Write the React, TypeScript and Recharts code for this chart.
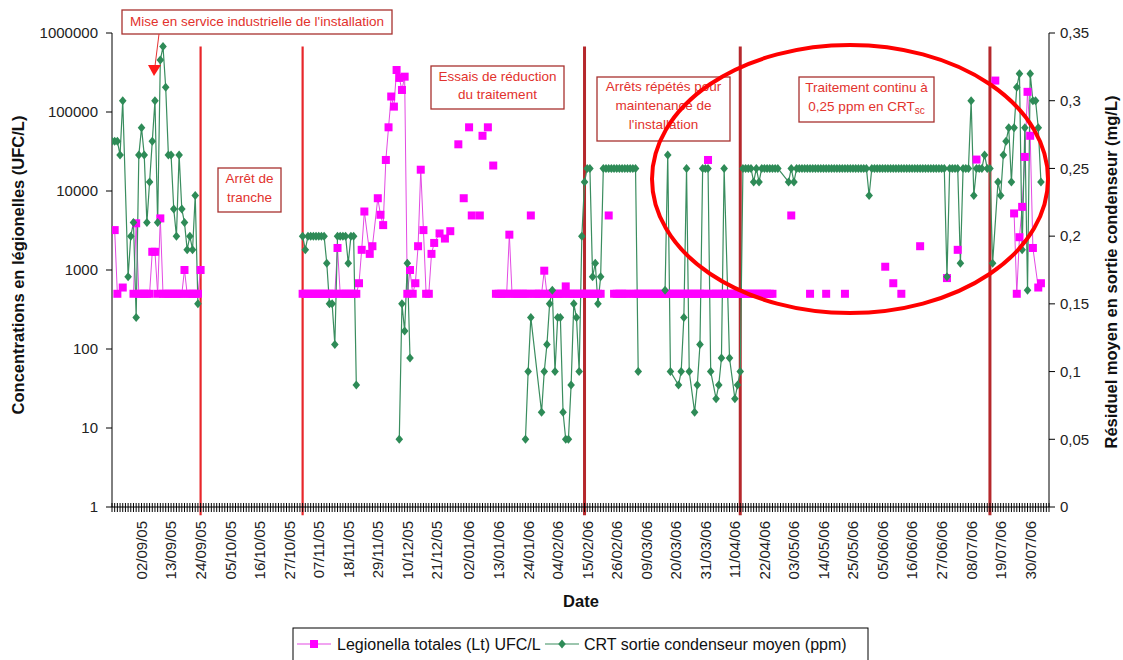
import React from "react";
import { LineChart, Line, XAxis, YAxis, ReferenceLine } from "recharts";

type Run = [string, (number | null)[]];

const FONT = "'Liberation Sans', Arial, Helvetica, sans-serif";

// x axis labels (one every 11 days)
const dateLabels = [
  "02/09/05", "13/09/05", "24/09/05", "05/10/05", "16/10/05", "27/10/05", "07/11/05",
  "18/11/05", "29/11/05", "10/12/05", "21/12/05", "02/01/06", "13/01/06", "24/01/06",
  "04/02/06", "15/02/06", "26/02/06", "09/03/06", "20/03/06", "31/03/06", "11/04/06",
  "22/04/06", "03/05/06", "14/05/06", "25/05/06", "05/06/06", "16/06/06", "27/06/06",
  "08/07/06", "19/07/06", "30/07/06",
];

const leftTicks = [1, 10, 100, 1000, 10000, 100000, 1000000];
const rightTicks = [0, 0.05, 0.1, 0.15, 0.2, 0.25, 0.3, 0.35];

// Legionella totales (Lt) UFC/L
// each run = first date, then one reading per day (null = no reading, line continues)
const legionellaAugSep: Run[] = [
  ["23/08/05", [3200, 500, null, 600]],
  ["30/08/05", [500, 3900, 500, 500, 500, 500, 500, 1700, 1700, 500, 4500,
    500, 500, 500, 500, 500, 500, 500, 500, 1000, 500, 500, 500, 500, 500, 1000]],
];

const legionellaNovDec: Run[] = [
  ["01/11/05", [500, 500, 500, 500, 500, 500, 500, 500, 500, 500, 500, 500, 500, 1900,
    500, 500, 500, 500, 500, 500, 500, 680, 1800, 5500, null, 1600, 2000, null, 8100,
    5000, 3700, 24700, 64000, 157000, 117000, 340000, 270000, 190000, 280000, 500,
    1000, 500, 680, 2000, 18600, 3200, 500, 500, 1600, 2200, null, 2900, null, 2500,
    null, 3100]],
  ["29/12/05", [39000]],
  ["31/12/05", [8100]],
  ["02/01/06", [64000]],
  ["03/01/06", [4900]],
  ["06/01/06", [4900]],
  ["07/01/06", [50000]],
  ["09/01/06", [64000]],
  ["11/01/06", [21000]],
];

const legionellaJanApr: Run[] = [
  ["12/01/06", [500, 500, 500, 500, 500, 2800, 500, 500, 500, 500, 500, 500, 500]],
  ["25/01/06", [4900]],
  ["26/01/06", [500, 500, 500, 500, 980, 500, 500, 500, 500, 500, 500, 500, 620,
    500, 500, 500, 500, 500, 500, 500, 500, 500, 500, 500, 500, 500]],
  ["23/02/06", [4900]],
  ["25/02/06", [500, 500, 500, 500, 500, 500]],
  ["04/03/06", [500, 500, 500, 500, 500, 500, 500, 500, 500, 500, 500, 500, 500, 500,
    500, 500, 500, 500, 500, 500, 500, 500, 500, 500, 500, 500, 500, 500]],
  ["01/04/06", [24700]],
  ["02/04/06", [500, 500, 500, 500, 500, 500, 500, 500, 500, 500, 500, 500, 500, 500,
    500, 500, 500, 500, 500, 500, 500, 500, 500, 500]],
];

const legionellaMayAug: Run[] = [
  ["02/05/06", [4900]],
  ["09/05/06", [500]],
  ["15/05/06", [500]],
  ["22/05/06", [500]],
  ["06/06/06", [1100]],
  ["09/06/06", [680]],
  ["12/06/06", [500]],
  ["19/06/06", [2000]],
  ["29/06/06", [790]],
  ["03/07/06", [1800]],
  ["10/07/06", [25000]],
  ["17/07/06", [250000]],
  ["24/07/06", [5200, 500, 2600, 6300, 27000, 180000, 50000, 1900, null, 600, 680]],
];

// CRT sortie condenseur moyen (ppm)
const crtAugSep: Run[] = [
  ["22/08/05", [0.27, 0.27, 0.27, 0.26, 0.3, null, 0.17, 0.2, 0.21, 0.14, 0.26, 0.28,
    0.26, 0.21, 0.24, 0.27, 0.3, 0.21, 0.33, 0.34, 0.31, 0.26, 0.26, 0.22, 0.2, 0.26,
    0.22, 0.21, 0.19, 0.2, 0.19, 0.23, 0.15]],
];

const crtNovDec: Run[] = [
  ["01/11/05", [0.2, 0.19, 0.2, 0.2, 0.2, 0.2, 0.2, 0.2, 0.2, 0.18, 0.15, 0.15, 0.12,
    0.2, 0.2, 0.2, 0.2, 0.18, 0.2, 0.2, 0.09]],
  ["07/12/05", [0.05, 0.15, 0.13, 0.18, 0.11]],
];

const crtJanFeb: Run[] = [
  ["23/01/06", [0.05, 0.1, 0.14, null, null, null, 0.07, 0.1, 0.12, 0.15, 0.16, 0.1,
    0.14, 0.14, 0.07, 0.05, 0.05, 0.09, 0.15, 0.14, 0.1, 0.2, 0.24, 0.25, 0.25, 0.17,
    0.18, 0.15, 0.17, 0.25, 0.25, 0.25, 0.25, 0.25, 0.25, 0.25, 0.25, 0.25, 0.25, 0.25,
    0.25, 0.25, 0.1]],
];

const crtMarAug: Run[] = [
  ["16/03/06", [0.16, 0.26, 0.1, null, null, 0.09, 0.1, 0.14, 0.25, 0.1, null, 0.07,
    0.09, 0.12, 0.25, 0.25, 0.25, 0.1, null, 0.08, 0.09, 0.11, 0.25, null, 0.11, null,
    0.08, 0.09, 0.1,
    0.25, 0.25, 0.25, 0.25, 0.24, 0.25, 0.24, 0.25, 0.25, 0.25,
    0.25, 0.25, 0.25, 0.25, null, null, null, 0.24, 0.25, 0.24,
    0.25, 0.25, 0.25, 0.25, 0.25, 0.25, 0.25, 0.25, 0.25, 0.25,
    0.25, 0.25, 0.25, 0.25, 0.25, 0.25, 0.25, 0.25, 0.25, 0.25,
    0.25, 0.25, 0.25, 0.25, 0.25, 0.25, 0.25, 0.23, 0.25, 0.25,
    0.25, 0.25, 0.25, 0.25, 0.25, 0.25, 0.25, 0.25, 0.25, 0.25,
    0.25, 0.25, 0.25, 0.25, 0.25, 0.25, 0.25, 0.25, 0.25, 0.25,
    0.25, 0.25, 0.25, 0.25, 0.25, 0.25, 0.17, 0.25, 0.25, 0.25,
    0.25, 0.18, 0.25, 0.25, 0.25, 0.3, 0.23, 0.25, 0.25, 0.25,
    0.26, 0.25, 0.25, 0.18, null, 0.24, 0.23, 0.26, 0.27, 0.28,
    0.24, 0.28, 0.31, 0.32, 0.19, 0.28, 0.16, 0.32, 0.3, 0.3,
    0.28, 0.24]],
];

// red vertical lines: changes of operating phase
const phaseDates = ["24/09/05", "01/11/05", "14/02/06", "13/04/06", "15/07/06"];

const ORIGIN = Date.UTC(2005, 8, 2);
function dayOf(s: string) {
  const [d, m, y] = s.split("/").map(Number);
  return Math.round((Date.UTC(2000 + y, m - 1, d) - ORIGIN) / 86400000);
}

function toPoints(runs: Run[], key: string) {
  const pts: Record<string, number | null>[] = [];
  runs.forEach(([start, values]) => {
    const d0 = dayOf(start);
    if (pts.length) pts.push({ day: d0, [key]: null });
    values.forEach((v, i) => {
      if (v !== null) pts.push({ day: d0 + i, [key]: v });
    });
  });
  return pts;
}

const legionellaData = toPoints(
  [...legionellaAugSep, ...legionellaNovDec, ...legionellaJanApr, ...legionellaMayAug],
  "lt"
);
const crtData = toPoints([...crtAugSep, ...crtNovDec, ...crtJanFeb, ...crtMarAug], "crt");

const X_MIN = -11;
const X_MAX = 338;
const dayTicks = Array.from({ length: X_MAX - X_MIN + 1 }, (_, i) => X_MIN + i);
const labelByDay = new Map(dateLabels.map((s) => [dayOf(s), s]));

const DateTick = (props: any) => {
  const { x, y, payload } = props;
  const label = labelByDay.get(payload.value);
  return (
    <g>
      <line x1={x} x2={x} y1={y - 4} y2={y + 5} stroke="#000" strokeWidth={1} />
      {label && (
        <text
          x={x}
          y={y + 14}
          transform={`rotate(-90 ${x} ${y + 14})`}
          textAnchor="end"
          dy="0.36em"
          fontSize={15}
          fill="#222"
          fontFamily={FONT}
        >
          {label}
        </text>
      )}
    </g>
  );
};

const SquareDot = (p: any) => {
  const { cx, cy, index } = p;
  if (cx == null || cy == null) return <g key={`s${index}`} />;
  return <rect key={`s${index}`} x={cx - 4} y={cy - 4} width={8} height={8} fill="#ff00ff" />;
};

const DiamondDot = (p: any) => {
  const { cx, cy, index } = p;
  if (cx == null || cy == null) return <g key={`d${index}`} />;
  return (
    <path
      key={`d${index}`}
      d={`M${cx} ${cy - 4.5}L${cx + 3.8} ${cy}L${cx} ${cy + 4.5}L${cx - 3.8} ${cy}Z`}
      fill="#2e8b57"
    />
  );
};

function NoteBox({ x, y, w, h, children }: { x: number; y: number; w: number; h: number; children: React.ReactNode }) {
  return (
    <g>
      <rect x={x} y={y} width={w} height={h} fill="#fff" stroke="#a8322f" strokeWidth={1.3} />
      <g fill="#e2322d" fontSize={13.5} textAnchor="middle" dominantBaseline="central">
        {children}
      </g>
    </g>
  );
}

export default function App() {
  return (
    <div style={{ position: "absolute", left: 0, top: 0, width: 1123, height: 660, background: "#fff", fontFamily: FONT }}>
      <LineChart width={1123} height={660} margin={{ top: 33, right: 0, bottom: 0, left: 0 }}>
        <XAxis
          type="number"
          dataKey="day"
          domain={[X_MIN, X_MAX]}
          allowDataOverflow
          ticks={dayTicks}
          interval={0}
          tick={DateTick}
          tickLine={false}
          tickSize={0}
          tickMargin={0}
          height={153}
          axisLine={{ stroke: "#000" }}
        />
        <YAxis
          yAxisId="left"
          scale="log"
          type="number"
          domain={[1, 1000000]}
          allowDataOverflow
          ticks={leftTicks}
          interval={0}
          width={112}
          tickSize={6}
          tickMargin={8}
          axisLine={{ stroke: "#000" }}
          tickLine={{ stroke: "#000" }}
          tick={{ fontSize: 15, fill: "#222", fontFamily: FONT }}
          tickFormatter={(v: number) => String(v)}
        />
        <YAxis
          yAxisId="right"
          orientation="right"
          type="number"
          domain={[0, 0.35]}
          ticks={rightTicks}
          interval={0}
          width={74}
          tickSize={6}
          tickMargin={5}
          axisLine={{ stroke: "#000" }}
          tickLine={{ stroke: "#000" }}
          tick={{ fontSize: 15, fill: "#222", fontFamily: FONT, textAnchor: "start" }}
          tickFormatter={(v: number) => String(v).replace(".", ",")}
        />
        {phaseDates.map((d, i) => (
          <ReferenceLine
            key={d}
            yAxisId="right"
            ifOverflow="visible"
            segment={[
              { x: dayOf(d), y: -0.006 },
              { x: dayOf(d), y: 0.34 },
            ]}
            stroke={i < 2 ? "#e8262a" : "#b5282c"}
            strokeWidth={i < 2 ? 2.2 : 3}
          />
        ))}
        <Line
          yAxisId="left"
          data={legionellaData}
          dataKey="lt"
          type="linear"
          stroke="#e34ae3"
          strokeWidth={1}
          dot={SquareDot}
          activeDot={false}
          connectNulls={false}
          isAnimationActive={false}
        />
        <Line
          yAxisId="right"
          data={crtData}
          dataKey="crt"
          type="linear"
          stroke="#3a8d5f"
          strokeWidth={1.2}
          dot={DiamondDot}
          activeDot={false}
          connectNulls={false}
          isAnimationActive={false}
        />
      </LineChart>

      <svg
        width={1123}
        height={660}
        style={{ position: "absolute", left: 0, top: 0, pointerEvents: "none" }}
        fontFamily={FONT}
      >
        {/* axis titles */}
        <text transform="translate(24 265) rotate(-90)" textAnchor="middle" fontWeight="bold" fontSize={16.5} fill="#111">
          Concentrations en légionelles (UFC/L)
        </text>
        <text transform="translate(1117 272) rotate(-90)" textAnchor="middle" fontWeight="bold" fontSize={16.5} fill="#111">
          Résiduel moyen en sortie condenseur (mg/L)
        </text>
        <text x={581} y={607} textAnchor="middle" fontWeight="bold" fontSize={16.5} fill="#111">
          Date
        </text>

        {/* annotations */}
        <NoteBox x={122} y={10} w={270} h={24}>
          <text x={257} y={21}>Mise en service industrielle de l'installation</text>
        </NoteBox>
        <line x1={159} y1={34} x2={155} y2={66} stroke="#e53030" strokeWidth={1} />
        <polygon points="148,65 161,65 154,76" fill="#ff1a1a" />

        <NoteBox x={218} y={168} w={63} h={44}>
          <text x={249.5} y={178}>Arrêt de</text>
          <text x={249.5} y={197}>tranche</text>
        </NoteBox>
        <NoteBox x={431} y={66} w={133} h={43}>
          <text x={497.5} y={76}>Essais de réduction</text>
          <text x={497.5} y={94}>du traitement</text>
        </NoteBox>
        <NoteBox x={597} y={77} w={133} h={64}>
          <text x={663.5} y={86}>Arrêts répétés pour</text>
          <text x={663.5} y={105}>maintenance de</text>
          <text x={663.5} y={124}>l'installation</text>
        </NoteBox>
        <NoteBox x={799} y={77} w={135} h={45}>
          <text x={866.5} y={87}>Traitement continu à</text>
          <text x={866.5} y={106}>
            0,25 ppm en CRT
            <tspan dy={4} fontSize={10}>sc</tspan>
          </text>
        </NoteBox>

        <ellipse cx={850} cy={179} rx={198} ry={134} fill="none" stroke="#ff0000" strokeWidth={4} />

        {/* legend */}
        <rect x={293} y={628} width={575} height={40} fill="#fff" stroke="#000" strokeWidth={1} />
        <line x1={297} x2={331} y1={644} y2={644} stroke="#e34ae3" strokeWidth={1.2} />
        <rect x={310} y={640} width={8} height={8} fill="#ff00ff" />
        <text x={337} y={650} fontSize={16} fill="#111">Legionella totales (Lt) UFC/L</text>
        <line x1={545} x2={579} y1={644} y2={644} stroke="#3a8d5f" strokeWidth={1.2} />
        <path d="M562 639.5L565.8 644L562 648.5L558.2 644Z" fill="#2e8b57" />
        <text x={584} y={650} fontSize={16} fill="#111">CRT sortie condenseur moyen (ppm)</text>
      </svg>
    </div>
  );
}
